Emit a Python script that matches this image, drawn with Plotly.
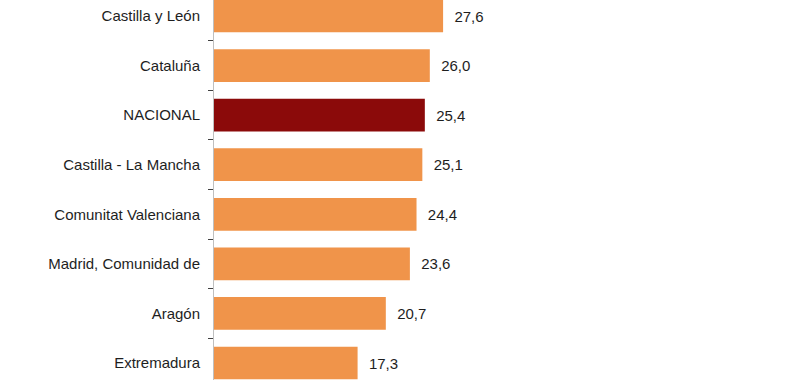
import plotly.graph_objects as go

regions = ["Castilla y León", "Cataluña", "NACIONAL", "Castilla - La Mancha",
           "Comunitat Valenciana", "Madrid, Comunidad de", "Aragón", "Extremadura"]
values = [27.6, 26.0, 25.4, 25.1, 24.4, 23.6, 20.7, 17.3]
highlight = "NACIONAL"

ORANGE = "#F0944A"
DARKRED = "#8B0A0A"
FONT = "Liberation Sans, Arial, sans-serif"

colors = [DARKRED if r == highlight else ORANGE for r in regions]
labels = ["\u00a0\u00a0" + f"{v:.1f}".replace(".", ",") for v in values]

fig = go.Figure(go.Bar(
    x=values, y=regions, orientation="h",
    marker=dict(color=colors, line=dict(width=0)),
    text=labels, textposition="outside", cliponaxis=False,
    textfont=dict(family=FONT, size=15, color="#1E1E1E"),
    width=0.66,
))

fig.update_layout(
    width=800, height=380,
    margin=dict(l=214, r=0, t=0, b=0),
    paper_bgcolor="white", plot_bgcolor="white",
    showlegend=False,
    font=dict(family=FONT, size=15, color="#1E1E1E"),
    xaxis=dict(range=[0, 70.6], visible=False, fixedrange=True),
    yaxis=dict(
        type="category", categoryorder="array", categoryarray=regions,
        range=[7.343, -0.323],
        showline=True, linecolor="#BFBFBF", linewidth=1,
        ticks="outside", tickson="boundaries", ticklen=5, tickcolor="#404040",
        showgrid=False, zeroline=False, automargin=False,
        ticklabelstandoff=10,
    ),
)

fig.write_html("out.html", config={"displayModeBar": False},
               post_script="document.body.style.margin='0';document.body.style.overflow='hidden';")
